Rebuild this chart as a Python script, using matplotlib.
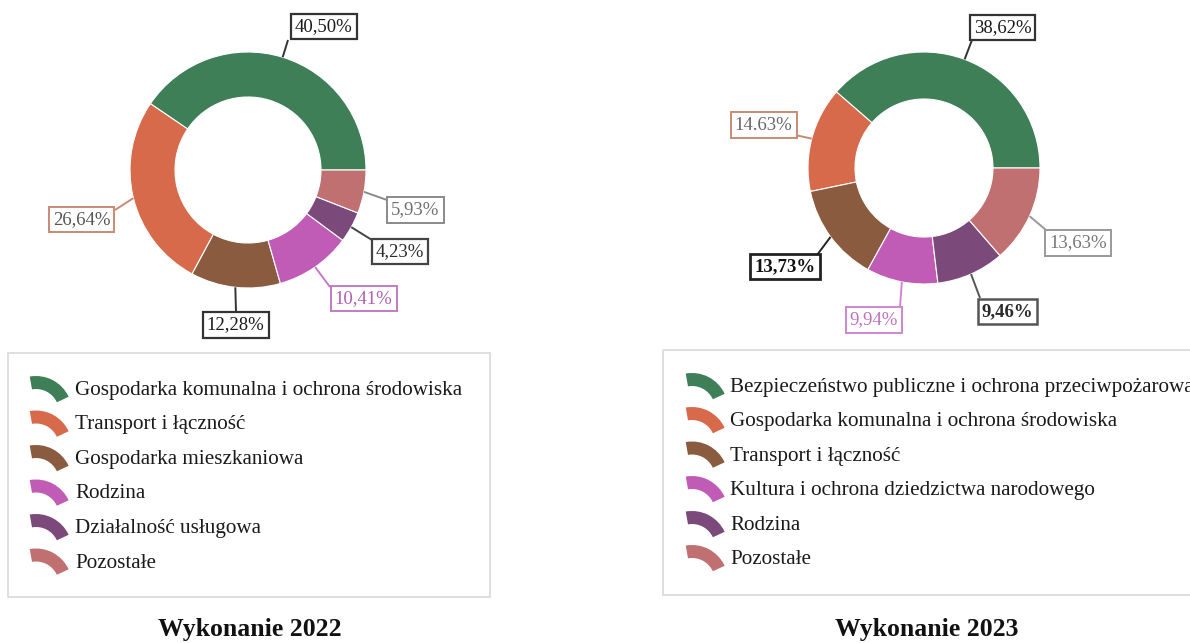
import numpy as np
import matplotlib.pyplot as plt
from matplotlib.patches import Wedge, Rectangle

plt.rcParams['font.family'] = ['Liberation Serif', 'DejaVu Serif']

W, H = 1190, 643

cats_2022 = ["Gospodarka komunalna i ochrona środowiska", "Transport i łączność",
             "Gospodarka mieszkaniowa", "Rodzina", "Działalność usługowa", "Pozostałe"]
vals_2022 = [40.50, 26.64, 12.28, 10.41, 4.23, 5.93]
labels_2022 = ["40,50%", "26,64%", "12,28%", "10,41%", "4,23%", "5,93%"]

cats_2023 = ["Bezpieczeństwo publiczne i ochrona przeciwpożarowa",
             "Gospodarka komunalna i ochrona środowiska", "Transport i łączność",
             "Kultura i ochrona dziedzictwa narodowego", "Rodzina", "Pozostałe"]
vals_2023 = [38.62, 14.63, 13.73, 9.94, 9.46, 13.63]
labels_2023 = ["38,62%", "14.63%", "13,73%", "9,94%", "9,46%", "13,63%"]

colors = ["#3f7f58", "#d86a4c", "#8b5b3f", "#c05cb6", "#7b4a7a", "#c07070"]

# label box styles: (edge colour, text colour, edge width, weight)
dark = ("#333333", "#1a1a1a", 1.6, "normal")
styles_2022 = [dark, ("#c98a72", "#555555", 1.4, "normal"), dark,
               ("#c47ac4", "#b060b0", 1.4, "normal"),
               ("#444444", "#2a2a2a", 1.6, "normal"),
               ("#8a8a8a", "#707070", 1.4, "normal")]
styles_2023 = [dark, ("#c98a72", "#666666", 1.4, "normal"),
               ("#222222", "#111111", 2.0, "bold"),
               ("#cf86cf", "#c070c0", 1.4, "normal"),
               ("#555555", "#2a2a2a", 1.8, "bold"),
               ("#999999", "#777777", 1.4, "normal")]

fig = plt.figure(figsize=(W / 100, H / 100), dpi=100)
ax = fig.add_axes([0, 0, 1, 1])


def donut(center, radius, width, vals, labels, styles, box_xy, line_end):
    ax.pie(vals, colors=colors, center=center, radius=radius, startangle=0,
           counterclock=False,
           wedgeprops=dict(width=width, edgecolor="white", linewidth=0.8))
    bounds = np.cumsum([0] + list(vals)) / sum(vals) * 360
    mids = (bounds[:-1] + bounds[1:]) / 2
    for i, (lab, st) in enumerate(zip(labels, styles)):
        ec, tc, lw, fw = st
        a = np.deg2rad(-mids[i])
        x0 = center[0] + radius * np.cos(a)
        y0 = center[1] + radius * np.sin(a)
        ax.plot([x0, line_end[i][0]], [y0, line_end[i][1]], color=ec, lw=1.4,
                solid_capstyle="butt", zorder=3)
        ax.text(box_xy[i][0], box_xy[i][1], lab, ha="center", va="center",
                fontsize=13.5, color=tc, fontweight=fw, zorder=5,
                bbox=dict(boxstyle="square,pad=0.22", fc="white", ec=ec, lw=lw))


def legend(box, x_mark, x_text, baselines, cats):
    x0, y0, x1, y1 = box
    ax.add_patch(Rectangle((x0, y0), x1 - x0, y1 - y0, fill=False,
                           ec="#d9d9d9", lw=1.2))
    for yb, cat, c in zip(baselines, cats, colors):
        # arc-shaped marker, like a piece of the ring
        ax.add_patch(Wedge((x_mark, yb + 17), 36, -100, -25, width=13,
                           fc=c, ec="none"))
        ax.text(x_text, yb, cat, fontsize=15.2, color="#1a1a1a", va="baseline",
                ha="left")


donut((248, 170), 118, 45, vals_2022, labels_2022, styles_2022,
      box_xy=[(323.5, 26.5), (81.5, 219.5), (235.5, 325), (363.5, 298.5),
              (400, 251.5), (415.5, 210)],
      line_end=[(288, 40), (115, 210), (236, 312), (330, 287), (372, 240), (387, 200)])

donut((924, 168), 116, 47, vals_2023, labels_2023, styles_2023,
      box_xy=[(1002.5, 27.5), (763.5, 125), (785, 266.5), (874, 320),
              (1007.5, 311.5), (1078, 243)],
      line_end=[(972, 40), (795, 135), (817, 255), (900, 307), (980, 298), (1046, 230)])

legend((8, 353, 490, 597), 36, 75, [395, 429.5, 464, 498.5, 533, 567.5], cats_2022)
legend((663, 350, 1205, 595), 692, 730, [392, 426, 460.5, 495, 530, 564], cats_2023)

ax.text(250, 636, "Wykonanie 2022", ha="center", va="baseline", fontsize=18.5,
        fontweight="bold", color="#111111")
ax.text(927, 636, "Wykonanie 2023", ha="center", va="baseline", fontsize=18.5,
        fontweight="bold", color="#111111")

ax.set_xlim(0, W)
ax.set_ylim(H, 0)
ax.set_axis_off()

fig.savefig("out.png", dpi=100, facecolor="white")
